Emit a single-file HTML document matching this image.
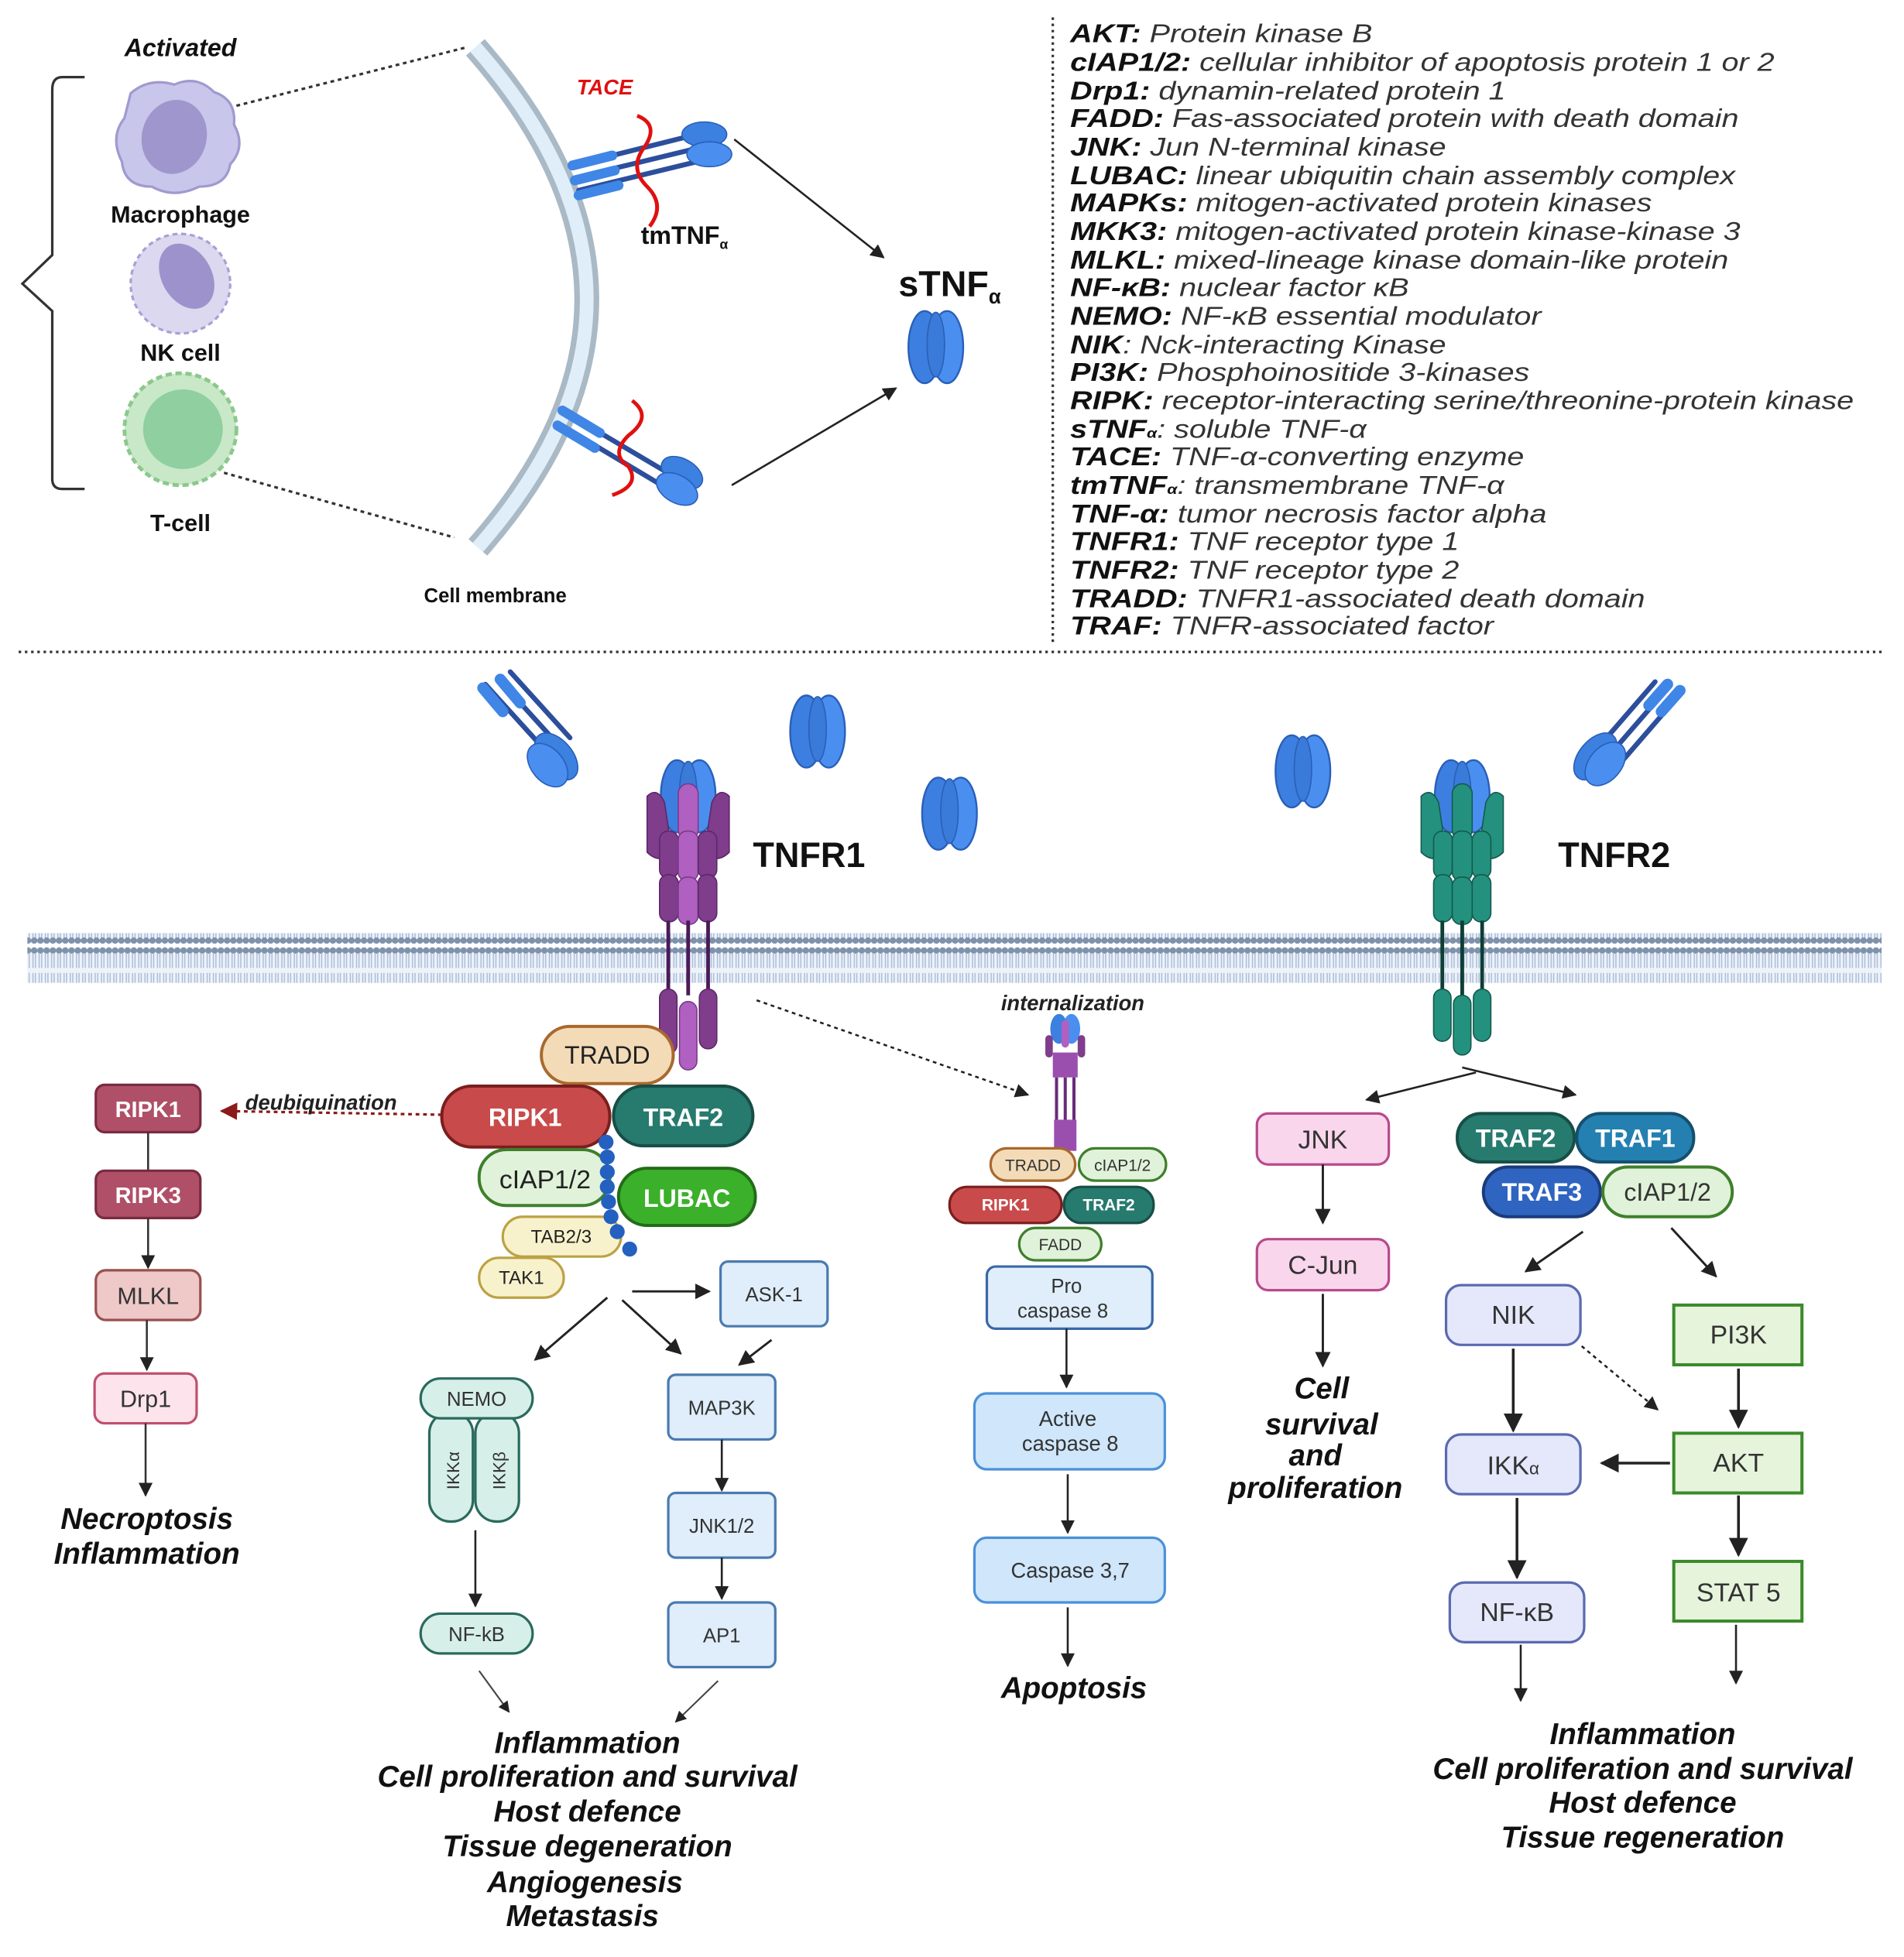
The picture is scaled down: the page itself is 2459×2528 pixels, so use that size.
<!DOCTYPE html>
<html><head><meta charset="utf-8"><style>
html,body{margin:0;padding:0;background:#fff}
svg{display:block}
text{font-family:"Liberation Sans",sans-serif}
</style></head><body>
<svg width="2459" height="2528" viewBox="0 0 1530 1573" preserveAspectRatio="none" xmlns="http://www.w3.org/2000/svg">
<defs>
<marker id="ah" viewBox="0 0 10 10" refX="9" refY="5" markerWidth="7" markerHeight="7" orient="auto-start-reverse"><path d="M0,0 L10,5 L0,10 z" fill="#222"/></marker>
<marker id="ahr" viewBox="0 0 10 10" refX="9" refY="5" markerWidth="7" markerHeight="7" orient="auto"><path d="M0,0 L10,5 L0,10 z" fill="#8b1a1a"/></marker>
<pattern id="mem" width="5" height="40" patternUnits="userSpaceOnUse">
<rect x="0" y="6" width="5" height="28" fill="#eef3fa"/>
<circle cx="2.5" cy="4" r="2.6" fill="#7f92ab"/>
<path d="M1.5,6 L1.5,18 M3.5,6 L3.5,18 M1.5,22 L1.5,34 M3.5,22 L3.5,34" stroke="#a8bbd6" stroke-width="0.9"/>
<circle cx="2.5" cy="36" r="2.6" fill="#7f92ab"/>
</pattern>
<g id="tri">
<ellipse cx="-9" cy="0" rx="13" ry="29" fill="#3d7fe0" stroke="#2a5fb8" stroke-width="1.5"/>
<ellipse cx="9" cy="0" rx="13" ry="29" fill="#4a8ff0" stroke="#2a5fb8" stroke-width="1.5"/>
<ellipse cx="0" cy="-2" rx="7" ry="26" fill="#3a7ad8" stroke="#2a5fb8" stroke-width="1"/>
</g>
</defs>

<!-- ============ TOP ============ -->
<text x="145" y="45" font-size="20" font-weight="bold" font-style="italic" text-anchor="middle" fill="#111">Activated</text>
<path d="M68,62 L50,62 Q42,62 42,72 L42,205 L18,228 L42,250 L42,385 Q42,393 50,393 L68,393" fill="none" stroke="#333" stroke-width="2"/>
<path d="M105,75 Q120,62 140,68 Q158,60 172,74 Q190,80 188,100 Q198,118 185,132 Q182,150 160,150 Q140,160 122,150 Q100,150 98,130 Q88,110 100,95 Z" fill="#c8c6ea" stroke="#a09ad0" stroke-width="2"/>
<ellipse cx="140" cy="110" rx="26" ry="30" fill="#9e96cc" transform="rotate(15 140 110)"/>
<text x="145" y="179" font-size="19" font-weight="bold" text-anchor="middle" fill="#111">Macrophage</text>
<circle cx="145" cy="228" r="40" fill="#dcd8f0" stroke="#a8a0d6" stroke-width="2" stroke-dasharray="4 3"/>
<ellipse cx="150" cy="222" rx="20" ry="28" fill="#9e92cc" transform="rotate(-30 150 222)"/>
<text x="145" y="290" font-size="19" font-weight="bold" text-anchor="middle" fill="#111">NK cell</text>
<circle cx="145" cy="345" r="45" fill="#c8e8c8" stroke="#8cc88c" stroke-width="3" stroke-dasharray="5 3"/>
<circle cx="147" cy="345" r="32" fill="#8fcfa0"/>
<text x="145" y="427" font-size="19" font-weight="bold" text-anchor="middle" fill="#111">T-cell</text>
<line x1="190" y1="85" x2="375" y2="38" stroke="#333" stroke-width="2" stroke-dasharray="3 3"/>
<line x1="180" y1="380" x2="365" y2="432" stroke="#333" stroke-width="2" stroke-dasharray="3 3"/>
<path d="M382,38 Q560,240 384,440" fill="none" stroke="#a9b9c6" stroke-width="20"/>
<path d="M382,38 Q560,240 384,440" fill="none" stroke="#e0eef9" stroke-width="11"/>
<text x="398" y="484" font-size="16" font-weight="bold" text-anchor="middle" fill="#111">Cell membrane</text>
<g stroke-linecap="round">
<line x1="460" y1="133" x2="560" y2="108" stroke="#2c4e9c" stroke-width="4"/>
<line x1="462" y1="143" x2="565" y2="118" stroke="#2c4e9c" stroke-width="4"/>
<line x1="465" y1="153" x2="568" y2="128" stroke="#2c4e9c" stroke-width="4"/>
<line x1="460" y1="133" x2="492" y2="125" stroke="#3f86e6" stroke-width="8"/>
<line x1="462" y1="145" x2="494" y2="137" stroke="#3f86e6" stroke-width="8"/>
<line x1="465" y1="157" x2="497" y2="149" stroke="#3f86e6" stroke-width="8"/>
</g>
<ellipse cx="566" cy="108" rx="18" ry="10" fill="#3c80e0" stroke="#2a5fb8"/>
<ellipse cx="570" cy="124" rx="18" ry="10" fill="#4a8ff0" stroke="#2a5fb8"/>
<path d="M512,93 Q530,100 518,118 Q505,135 520,150 Q535,165 522,182" fill="none" stroke="#e01010" stroke-width="3"/>
<text x="486" y="76" font-size="17" font-weight="bold" font-style="italic" text-anchor="middle" fill="#e01010">TACE</text>
<text x="515" y="196" font-size="20" font-weight="bold" fill="#111">tmTNF<tspan font-size="11" dy="4">α</tspan></text>
<g stroke-linecap="round">
<line x1="452" y1="330" x2="545" y2="385" stroke="#2c4e9c" stroke-width="4"/>
<line x1="448" y1="340" x2="540" y2="395" stroke="#2c4e9c" stroke-width="4"/>
<line x1="452" y1="330" x2="482" y2="348" stroke="#3f86e6" stroke-width="8"/>
<line x1="448" y1="342" x2="478" y2="360" stroke="#3f86e6" stroke-width="8"/>
</g>
<ellipse cx="548" cy="380" rx="18" ry="11" fill="#3c80e0" stroke="#2a5fb8" transform="rotate(30 548 380)"/>
<ellipse cx="544" cy="393" rx="18" ry="11" fill="#4a8ff0" stroke="#2a5fb8" transform="rotate(30 544 393)"/>
<path d="M508,322 Q525,335 505,350 Q490,365 505,375 Q515,390 492,398" fill="none" stroke="#e01010" stroke-width="3"/>
<line x1="590" y1="112" x2="710" y2="207" stroke="#222" stroke-width="1.6" marker-end="url(#ah)"/>
<line x1="588" y1="390" x2="720" y2="312" stroke="#222" stroke-width="1.6" marker-end="url(#ah)"/>
<text x="722" y="238" font-size="29" font-weight="bold" fill="#111">sTNF<tspan font-size="16" dy="6">α</tspan></text>
<use href="#tri" x="752" y="279"/>

<!-- legend -->
<line x1="846" y1="14" x2="846" y2="518" stroke="#333" stroke-width="2" stroke-dasharray="2 3"/>
<g font-size="20.5" font-style="italic" fill="#333" transform="translate(860 0) scale(1.2 1) translate(-860 0)">
<text x="860" y="34"><tspan font-weight="bold" fill="#111">AKT:</tspan> Protein kinase B</text>
<text x="860" y="57"><tspan font-weight="bold" fill="#111">cIAP1/2:</tspan> cellular inhibitor of apoptosis protein 1 or 2</text>
<text x="860" y="80"><tspan font-weight="bold" fill="#111">Drp1:</tspan> dynamin-related protein 1</text>
<text x="860" y="102"><tspan font-weight="bold" fill="#111">FADD:</tspan> Fas-associated protein with death domain</text>
<text x="860" y="125"><tspan font-weight="bold" fill="#111">JNK:</tspan> Jun N-terminal kinase</text>
<text x="860" y="148"><tspan font-weight="bold" fill="#111">LUBAC:</tspan> linear ubiquitin chain assembly complex</text>
<text x="860" y="170"><tspan font-weight="bold" fill="#111">MAPKs:</tspan> mitogen-activated protein kinases</text>
<text x="860" y="193"><tspan font-weight="bold" fill="#111">MKK3:</tspan> mitogen-activated protein kinase-kinase 3</text>
<text x="860" y="216"><tspan font-weight="bold" fill="#111">MLKL:</tspan> mixed-lineage kinase domain-like protein</text>
<text x="860" y="238"><tspan font-weight="bold" fill="#111">NF-κB:</tspan> nuclear factor κB</text>
<text x="860" y="261"><tspan font-weight="bold" fill="#111">NEMO:</tspan> NF-κB essential modulator</text>
<text x="860" y="284"><tspan font-weight="bold" fill="#111">NIK</tspan>: Nck-interacting Kinase</text>
<text x="860" y="306"><tspan font-weight="bold" fill="#111">PI3K:</tspan> Phosphoinositide 3-kinases</text>
<text x="860" y="329"><tspan font-weight="bold" fill="#111">RIPK:</tspan> receptor-interacting serine/threonine-protein kinase</text>
<text x="860" y="352"><tspan font-weight="bold" fill="#111">sTNF<tspan font-size="11">α</tspan></tspan>: soluble TNF-α</text>
<text x="860" y="374"><tspan font-weight="bold" fill="#111">TACE:</tspan> TNF-α-converting enzyme</text>
<text x="860" y="397"><tspan font-weight="bold" fill="#111">tmTNF<tspan font-size="11">α</tspan></tspan>: transmembrane TNF-α</text>
<text x="860" y="420"><tspan font-weight="bold" fill="#111">TNF-α:</tspan> tumor necrosis factor alpha</text>
<text x="860" y="442"><tspan font-weight="bold" fill="#111">TNFR1:</tspan> TNF receptor type 1</text>
<text x="860" y="465"><tspan font-weight="bold" fill="#111">TNFR2:</tspan> TNF receptor type 2</text>
<text x="860" y="488"><tspan font-weight="bold" fill="#111">TRADD:</tspan> TNFR1-associated death domain</text>
<text x="860" y="510"><tspan font-weight="bold" fill="#111">TRAF:</tspan> TNFR-associated factor</text>
</g>
<line x1="15" y1="524" x2="1515" y2="524" stroke="#333" stroke-width="2" stroke-dasharray="2 3"/>

<!-- ============ BOTTOM ============ -->
<rect x="22" y="750" width="1490" height="40" fill="url(#mem)"/>

<use href="#tri" x="657" y="588"/>
<use href="#tri" x="763" y="654"/>
<use href="#tri" x="1047" y="620"/>
<g stroke-linecap="round">
<line x1="390" y1="550" x2="438" y2="603" stroke="#2c4e9c" stroke-width="4"/>
<line x1="400" y1="545" x2="448" y2="598" stroke="#2c4e9c" stroke-width="4"/>
<line x1="410" y1="540" x2="458" y2="593" stroke="#2c4e9c" stroke-width="4"/>
<line x1="388" y1="553" x2="404" y2="572" stroke="#3f86e6" stroke-width="9"/>
<line x1="402" y1="546" x2="418" y2="565" stroke="#3f86e6" stroke-width="9"/>
<line x1="1340" y1="553" x2="1295" y2="605" stroke="#2c4e9c" stroke-width="4"/>
<line x1="1350" y1="558" x2="1305" y2="610" stroke="#2c4e9c" stroke-width="4"/>
<line x1="1330" y1="548" x2="1285" y2="600" stroke="#2c4e9c" stroke-width="4"/>
<line x1="1350" y1="555" x2="1335" y2="572" stroke="#3f86e6" stroke-width="9"/>
<line x1="1340" y1="550" x2="1325" y2="567" stroke="#3f86e6" stroke-width="9"/>
</g>
<ellipse cx="447" cy="608" rx="13" ry="22" fill="#3c80e0" stroke="#2a5fb8" transform="rotate(-40 447 608)"/>
<ellipse cx="440" cy="615" rx="13" ry="20" fill="#4a8ff0" stroke="#2a5fb8" transform="rotate(-40 440 615)"/>
<ellipse cx="1282" cy="608" rx="13" ry="22" fill="#3c80e0" stroke="#2a5fb8" transform="rotate(40 1282 608)"/>
<ellipse cx="1290" cy="614" rx="13" ry="20" fill="#4a8ff0" stroke="#2a5fb8" transform="rotate(40 1290 614)"/>

<!-- TNFR1 receptor -->
<use href="#tri" x="553" y="640"/>
<path d="M520,640 Q528,632 534,645 L540,685 Q530,695 520,685 Z" fill="#7f3d8c" stroke="#5c2868"/>
<path d="M586,640 Q578,632 572,645 L566,685 Q576,695 586,685 Z" fill="#7f3d8c" stroke="#5c2868"/>
<rect x="545" y="630" width="16" height="45" rx="8" fill="#b060c0" stroke="#7a3a8a"/>
<rect x="530" y="668" width="15" height="38" rx="7" fill="#7f3d8c" stroke="#5c2868"/>
<rect x="545" y="668" width="16" height="40" rx="7" fill="#b060c0" stroke="#7a3a8a"/>
<rect x="561" y="668" width="15" height="38" rx="7" fill="#7f3d8c" stroke="#5c2868"/>
<rect x="530" y="703" width="15" height="38" rx="7" fill="#7f3d8c" stroke="#5c2868"/>
<rect x="545" y="705" width="16" height="38" rx="7" fill="#b060c0" stroke="#7a3a8a"/>
<rect x="561" y="703" width="15" height="38" rx="7" fill="#7f3d8c" stroke="#5c2868"/>
<line x1="537" y1="740" x2="537" y2="800" stroke="#4a1a58" stroke-width="3"/>
<line x1="553" y1="740" x2="553" y2="800" stroke="#4a1a58" stroke-width="3"/>
<line x1="569" y1="740" x2="569" y2="800" stroke="#4a1a58" stroke-width="3"/>
<rect x="530" y="795" width="14" height="52" rx="7" fill="#7f3d8c" stroke="#5c2868"/>
<rect x="546" y="805" width="14" height="55" rx="7" fill="#b060c0" stroke="#7a3a8a"/>
<rect x="562" y="795" width="14" height="48" rx="7" fill="#7f3d8c" stroke="#5c2868"/>
<text x="605" y="697" font-size="28" font-weight="bold" fill="#111">TNFR1</text>

<!-- TNFR2 receptor -->
<use href="#tri" x="1175" y="640"/>
<path d="M1142,640 Q1150,632 1156,645 L1162,685 Q1152,695 1142,685 Z" fill="#23917e" stroke="#145a4e"/>
<path d="M1208,640 Q1200,632 1194,645 L1188,685 Q1198,695 1208,685 Z" fill="#23917e" stroke="#145a4e"/>
<rect x="1167" y="630" width="16" height="45" rx="8" fill="#23917e" stroke="#145a4e"/>
<g fill="#23917e" stroke="#145a4e">
<rect x="1152" y="668" width="15" height="38" rx="7"/><rect x="1167" y="668" width="16" height="40" rx="7"/><rect x="1183" y="668" width="15" height="38" rx="7"/>
<rect x="1152" y="703" width="15" height="38" rx="7"/><rect x="1167" y="705" width="16" height="38" rx="7"/><rect x="1183" y="703" width="15" height="38" rx="7"/>
</g>
<line x1="1159" y1="740" x2="1159" y2="800" stroke="#0e3e36" stroke-width="3"/>
<line x1="1175" y1="740" x2="1175" y2="800" stroke="#0e3e36" stroke-width="3"/>
<line x1="1191" y1="740" x2="1191" y2="800" stroke="#0e3e36" stroke-width="3"/>
<g fill="#23917e" stroke="#145a4e">
<rect x="1152" y="795" width="14" height="42" rx="7"/><rect x="1168" y="800" width="14" height="48" rx="7"/><rect x="1184" y="795" width="14" height="42" rx="7"/>
</g>
<text x="1252" y="697" font-size="28" font-weight="bold" fill="#111">TNFR2</text>

<!-- TNFR1 complex -->
<rect x="435" y="825" width="106" height="46" rx="23" fill="#f3dbb7" stroke="#a9692e" stroke-width="2.5"/>
<text x="488" y="855" font-size="20" text-anchor="middle" fill="#222">TRADD</text>
<rect x="355" y="873" width="135" height="49" rx="24" fill="#c94a4a" stroke="#7a1e1e" stroke-width="2.5"/>
<text x="422" y="905" font-size="20" font-weight="bold" text-anchor="middle" fill="#fff">RIPK1</text>
<rect x="493" y="873" width="112" height="48" rx="24" fill="#267a6e" stroke="#174e46" stroke-width="2.5"/>
<text x="549" y="905" font-size="20" font-weight="bold" text-anchor="middle" fill="#fff">TRAF2</text>
<rect x="385" y="924" width="105" height="45" rx="22" fill="#e0f2d9" stroke="#3f7f2c" stroke-width="2.5"/>
<text x="438" y="955" font-size="21" text-anchor="middle" fill="#222">cIAP1/2</text>
<rect x="497" y="939" width="110" height="46" rx="23" fill="#3bb02a" stroke="#236c1a" stroke-width="2.5"/>
<text x="552" y="970" font-size="20" font-weight="bold" text-anchor="middle" fill="#fff">LUBAC</text>
<rect x="404" y="978" width="95" height="32" rx="16" fill="#f8f2cc" stroke="#bca244" stroke-width="2"/>
<text x="451" y="999" font-size="15" text-anchor="middle" fill="#222">TAB2/3</text>
<rect x="385" y="1011" width="68" height="32" rx="16" fill="#f8f2cc" stroke="#bca244" stroke-width="2"/>
<text x="419" y="1032" font-size="15" text-anchor="middle" fill="#222">TAK1</text>
<g fill="#2460c0">
<circle cx="487" cy="918" r="6"/><circle cx="488" cy="930" r="6"/><circle cx="488" cy="942" r="6"/><circle cx="488" cy="954" r="6"/><circle cx="489" cy="966" r="6"/><circle cx="491" cy="978" r="6"/><circle cx="496" cy="990" r="6"/><circle cx="506" cy="1004" r="6"/>
</g>
<line x1="355" y1="896" x2="178" y2="893" stroke="#8b1a1a" stroke-width="2" stroke-dasharray="3 3" marker-end="url(#ahr)"/>
<text x="258" y="892" font-size="17" font-weight="bold" font-style="italic" text-anchor="middle" fill="#222">deubiquination</text>
<rect x="77" y="872" width="84" height="38" rx="7" fill="#b05068" stroke="#7a2a40" stroke-width="2"/>
<text x="119" y="898" font-size="18" font-weight="bold" text-anchor="middle" fill="#fff">RIPK1</text>
<line x1="119" y1="910" x2="119" y2="941" stroke="#333" stroke-width="1.6"/>
<rect x="77" y="941" width="84" height="38" rx="7" fill="#b05068" stroke="#7a2a40" stroke-width="2"/>
<text x="119" y="967" font-size="18" font-weight="bold" text-anchor="middle" fill="#fff">RIPK3</text>
<line x1="119" y1="979" x2="119" y2="1019" stroke="#333" stroke-width="1.6" marker-end="url(#ah)"/>
<rect x="77" y="1021" width="84" height="40" rx="8" fill="#efc8c8" stroke="#9a5050" stroke-width="2"/>
<text x="119" y="1048" font-size="19" text-anchor="middle" fill="#333">MLKL</text>
<line x1="118" y1="1061" x2="118" y2="1101" stroke="#333" stroke-width="1.6" marker-end="url(#ah)"/>
<rect x="76" y="1104" width="82" height="40" rx="8" fill="#fde4ec" stroke="#c05070" stroke-width="2"/>
<text x="117" y="1131" font-size="19" text-anchor="middle" fill="#333">Drp1</text>
<line x1="117" y1="1144" x2="117" y2="1202" stroke="#333" stroke-width="1.6" marker-end="url(#ah)"/>
<g font-size="24" font-weight="bold" font-style="italic" text-anchor="middle" fill="#111">
<text x="118" y="1229">Necroptosis</text><text x="118" y="1257">Inflammation</text>
</g>
<line x1="488" y1="1043" x2="430" y2="1093" stroke="#222" stroke-width="1.8" marker-end="url(#ah)"/>
<line x1="500" y1="1045" x2="547" y2="1088" stroke="#222" stroke-width="1.8" marker-end="url(#ah)"/>
<line x1="508" y1="1038" x2="570" y2="1038" stroke="#222" stroke-width="1.8" marker-end="url(#ah)"/>
<line x1="620" y1="1077" x2="594" y2="1097" stroke="#222" stroke-width="1.8" marker-end="url(#ah)"/>
<rect x="579" y="1014" width="86" height="52" rx="6" fill="#dfeefa" stroke="#4a7ab0" stroke-width="2"/>
<text x="622" y="1046" font-size="16" text-anchor="middle" fill="#333">ASK-1</text>
<rect x="345" y="1135" width="35" height="88" rx="17" fill="#d6efe8" stroke="#2a6a5e" stroke-width="2"/>
<rect x="382" y="1135" width="35" height="88" rx="17" fill="#d6efe8" stroke="#2a6a5e" stroke-width="2"/>
<text transform="translate(369 1182) rotate(-90)" font-size="14" text-anchor="middle" fill="#333">IKKα</text>
<text transform="translate(406 1182) rotate(-90)" font-size="14" text-anchor="middle" fill="#333">IKKβ</text>
<rect x="338" y="1108" width="90" height="32" rx="16" fill="#d6efe8" stroke="#2a6a5e" stroke-width="2"/>
<text x="383" y="1130" font-size="16" text-anchor="middle" fill="#333">NEMO</text>
<line x1="382" y1="1230" x2="382" y2="1291" stroke="#222" stroke-width="1.6" marker-end="url(#ah)"/>
<rect x="338" y="1297" width="90" height="32" rx="16" fill="#d6efe8" stroke="#2a6a5e" stroke-width="2"/>
<text x="383" y="1319" font-size="16" text-anchor="middle" fill="#333">NF-kB</text>
<rect x="537" y="1105" width="86" height="52" rx="6" fill="#dfeefa" stroke="#4a7ab0" stroke-width="2"/>
<text x="580" y="1137" font-size="16" text-anchor="middle" fill="#333">MAP3K</text>
<line x1="580" y1="1157" x2="580" y2="1198" stroke="#222" stroke-width="1.6" marker-end="url(#ah)"/>
<rect x="537" y="1200" width="86" height="52" rx="6" fill="#dfeefa" stroke="#4a7ab0" stroke-width="2"/>
<text x="580" y="1232" font-size="16" text-anchor="middle" fill="#333">JNK1/2</text>
<line x1="580" y1="1252" x2="580" y2="1285" stroke="#222" stroke-width="1.6" marker-end="url(#ah)"/>
<rect x="537" y="1288" width="86" height="52" rx="6" fill="#dfeefa" stroke="#4a7ab0" stroke-width="2"/>
<text x="580" y="1320" font-size="16" text-anchor="middle" fill="#333">AP1</text>
<line x1="385" y1="1343" x2="409" y2="1376" stroke="#444" stroke-width="1.3" marker-end="url(#ah)"/>
<line x1="577" y1="1351" x2="543" y2="1384" stroke="#444" stroke-width="1.3" marker-end="url(#ah)"/>
<g font-size="24" font-weight="bold" font-style="italic" text-anchor="middle" fill="#111">
<text x="472" y="1409">Inflammation</text>
<text x="472" y="1436">Cell proliferation and survival</text>
<text x="472" y="1464">Host defence</text>
<text x="472" y="1492">Tissue degeneration</text>
<text x="470" y="1521">Angiogenesis</text>
<text x="468" y="1548">Metastasis</text>
</g>

<line x1="608" y1="804" x2="826" y2="880" stroke="#222" stroke-width="1.6" stroke-dasharray="3 3" marker-end="url(#ah)"/>
<text x="862" y="812" font-size="17" font-weight="bold" font-style="italic" text-anchor="middle" fill="#222">internalization</text>
<ellipse cx="851" cy="827" rx="7" ry="12" fill="#3c80e0"/><ellipse cx="861" cy="827" rx="7" ry="12" fill="#4a8ff0"/>
<rect x="853" y="820" width="6" height="22" rx="3" fill="#b060c0"/>
<rect x="840" y="832" width="6" height="18" rx="3" fill="#7f3d8c"/><rect x="866" y="832" width="6" height="18" rx="3" fill="#7f3d8c"/>
<rect x="846" y="846" width="20" height="20" fill="#9a4fae"/>
<g stroke="#6a2a7a" stroke-width="2.5"><line x1="849" y1="866" x2="849" y2="925"/><line x1="856" y1="866" x2="856" y2="925"/><line x1="863" y1="866" x2="863" y2="925"/></g>
<rect x="847" y="900" width="18" height="25" fill="#9a4fae"/>
<rect x="796" y="923" width="68" height="26" rx="13" fill="#f3dbb7" stroke="#a9692e" stroke-width="2"/>
<text x="830" y="941" font-size="13" text-anchor="middle" fill="#333">TRADD</text>
<rect x="867" y="923" width="70" height="26" rx="13" fill="#e0f2d9" stroke="#3f7f2c" stroke-width="2"/>
<text x="902" y="941" font-size="13" text-anchor="middle" fill="#333">cIAP1/2</text>
<rect x="763" y="954" width="90" height="29" rx="14" fill="#c94a4a" stroke="#7a1e1e" stroke-width="2"/>
<text x="808" y="973" font-size="13" font-weight="bold" text-anchor="middle" fill="#fff">RIPK1</text>
<rect x="855" y="954" width="72" height="29" rx="14" fill="#267a6e" stroke="#174e46" stroke-width="2"/>
<text x="891" y="973" font-size="13" font-weight="bold" text-anchor="middle" fill="#fff">TRAF2</text>
<rect x="819" y="987" width="66" height="26" rx="13" fill="#e0f2d9" stroke="#3f7f2c" stroke-width="2"/>
<text x="852" y="1005" font-size="13" text-anchor="middle" fill="#333">FADD</text>
<rect x="793" y="1018" width="133" height="50" rx="7" fill="#dfeefa" stroke="#3a68a8" stroke-width="2"/>
<text x="857" y="1039" font-size="16" text-anchor="middle" fill="#333">Pro</text>
<text x="854" y="1059" font-size="16" text-anchor="middle" fill="#333">caspase 8</text>
<line x1="857" y1="1068" x2="857" y2="1115" stroke="#222" stroke-width="1.6" marker-end="url(#ah)"/>
<rect x="783" y="1120" width="153" height="61" rx="10" fill="#cfe6fb" stroke="#4a90d8" stroke-width="2"/>
<text x="858" y="1146" font-size="17" text-anchor="middle" fill="#333">Active</text>
<text x="860" y="1166" font-size="17" text-anchor="middle" fill="#333">caspase 8</text>
<line x1="858" y1="1185" x2="858" y2="1232" stroke="#222" stroke-width="1.6" marker-end="url(#ah)"/>
<rect x="783" y="1236" width="153" height="52" rx="10" fill="#cfe6fb" stroke="#4a90d8" stroke-width="2"/>
<text x="860" y="1268" font-size="17" text-anchor="middle" fill="#333">Caspase 3,7</text>
<line x1="858" y1="1292" x2="858" y2="1339" stroke="#222" stroke-width="1.6" marker-end="url(#ah)"/>
<text x="863" y="1365" font-size="24" font-weight="bold" font-style="italic" text-anchor="middle" fill="#111">Apoptosis</text>

<line x1="1175" y1="858" x2="1266" y2="880" stroke="#222" stroke-width="1.6" marker-end="url(#ah)"/>
<line x1="1186" y1="862" x2="1098" y2="884" stroke="#222" stroke-width="1.6" marker-end="url(#ah)"/>
<rect x="1010" y="895" width="106" height="41" rx="9" fill="#f9d6ec" stroke="#b94a8c" stroke-width="2"/>
<text x="1063" y="923" font-size="21" text-anchor="middle" fill="#333">JNK</text>
<line x1="1063" y1="936" x2="1063" y2="983" stroke="#222" stroke-width="1.8" marker-end="url(#ah)"/>
<rect x="1010" y="996" width="106" height="41" rx="9" fill="#f9d6ec" stroke="#b94a8c" stroke-width="2"/>
<text x="1063" y="1024" font-size="21" text-anchor="middle" fill="#333">C-Jun</text>
<line x1="1063" y1="1040" x2="1063" y2="1098" stroke="#222" stroke-width="1.8" marker-end="url(#ah)"/>
<g font-size="24" font-weight="bold" font-style="italic" text-anchor="middle" fill="#111">
<text x="1062" y="1124">Cell</text><text x="1062" y="1153">survival</text><text x="1057" y="1178">and</text><text x="1057" y="1204">proliferation</text>
</g>
<rect x="1171" y="895" width="94" height="39" rx="19" fill="#267a6e" stroke="#174e46" stroke-width="2.5"/>
<text x="1218" y="922" font-size="20" font-weight="bold" text-anchor="middle" fill="#fff">TRAF2</text>
<rect x="1267" y="895" width="94" height="39" rx="19" fill="#2480b0" stroke="#14506e" stroke-width="2.5"/>
<text x="1314" y="922" font-size="20" font-weight="bold" text-anchor="middle" fill="#fff">TRAF1</text>
<rect x="1192" y="938" width="94" height="40" rx="20" fill="#2f64c0" stroke="#1a3c7a" stroke-width="2.5"/>
<text x="1239" y="965" font-size="20" font-weight="bold" text-anchor="middle" fill="#fff">TRAF3</text>
<rect x="1288" y="938" width="104" height="40" rx="20" fill="#e0f2d9" stroke="#3f7f2c" stroke-width="2.5"/>
<text x="1340" y="965" font-size="20" text-anchor="middle" fill="#333">cIAP1/2</text>
<line x1="1272" y1="990" x2="1226" y2="1022" stroke="#222" stroke-width="1.8" marker-end="url(#ah)"/>
<line x1="1343" y1="987" x2="1379" y2="1026" stroke="#222" stroke-width="1.8" marker-end="url(#ah)"/>
<rect x="1162" y="1033" width="108" height="48" rx="12" fill="#e4e8fa" stroke="#5a6ab0" stroke-width="2"/>
<text x="1216" y="1064" font-size="21" text-anchor="middle" fill="#333">NIK</text>
<line x1="1271" y1="1082" x2="1332" y2="1133" stroke="#222" stroke-width="1.6" stroke-dasharray="3 3" marker-end="url(#ah)"/>
<line x1="1216" y1="1084" x2="1216" y2="1150" stroke="#222" stroke-width="2.2" marker-end="url(#ah)"/>
<rect x="1162" y="1153" width="108" height="48" rx="12" fill="#e4e8fa" stroke="#5a6ab0" stroke-width="2"/>
<text x="1216" y="1185" font-size="21" text-anchor="middle" fill="#333">IKK<tspan font-size="14">α</tspan></text>
<line x1="1219" y1="1204" x2="1219" y2="1268" stroke="#222" stroke-width="2.2" marker-end="url(#ah)"/>
<rect x="1165" y="1272" width="108" height="48" rx="12" fill="#e4e8fa" stroke="#5a6ab0" stroke-width="2"/>
<text x="1219" y="1303" font-size="21" text-anchor="middle" fill="#333">NF-κB</text>
<line x1="1222" y1="1322" x2="1222" y2="1367" stroke="#222" stroke-width="1.6" marker-end="url(#ah)"/>
<rect x="1345" y="1049" width="103" height="48" fill="#e6f4dc" stroke="#3a8a2a" stroke-width="2.5"/>
<text x="1397" y="1080" font-size="21" text-anchor="middle" fill="#333">PI3K</text>
<line x1="1397" y1="1100" x2="1397" y2="1147" stroke="#222" stroke-width="2.2" marker-end="url(#ah)"/>
<rect x="1345" y="1152" width="103" height="48" fill="#e6f4dc" stroke="#3a8a2a" stroke-width="2.5"/>
<text x="1397" y="1183" font-size="21" text-anchor="middle" fill="#333">AKT</text>
<line x1="1342" y1="1176" x2="1287" y2="1176" stroke="#222" stroke-width="2.2" marker-end="url(#ah)"/>
<line x1="1397" y1="1202" x2="1397" y2="1250" stroke="#222" stroke-width="2.2" marker-end="url(#ah)"/>
<rect x="1345" y="1255" width="103" height="48" fill="#e6f4dc" stroke="#3a8a2a" stroke-width="2.5"/>
<text x="1397" y="1287" font-size="21" text-anchor="middle" fill="#333">STAT 5</text>
<line x1="1395" y1="1306" x2="1395" y2="1353" stroke="#222" stroke-width="1.6" marker-end="url(#ah)"/>
<g font-size="24" font-weight="bold" font-style="italic" text-anchor="middle" fill="#111">
<text x="1320" y="1402">Inflammation</text>
<text x="1320" y="1430">Cell proliferation and survival</text>
<text x="1320" y="1457">Host defence</text>
<text x="1320" y="1485">Tissue regeneration</text>
</g>
</svg>
</body></html>
